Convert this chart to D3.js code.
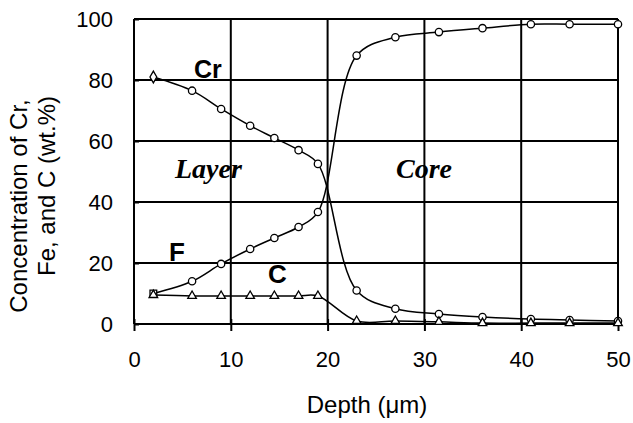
<!DOCTYPE html>
<html>
<head>
<meta charset="utf-8">
<script src="https://cdn.jsdelivr.net/npm/d3@7"></script>
<style>
  body { margin: 0; background: #fff; }
  text { font-family: Arial, "Liberation Sans", sans-serif; fill: #000; }
</style>
</head>
<body>
<div id="chart"></div>
<script>
// depth profile values
var depth = [2, 6, 9, 12, 14.5, 17, 19, 23, 27, 31.5, 36, 41, 45, 50];
var crVals = [81, 76.5, 70.5, 65, 61, 57, 52.5, 11, 5, 3.3, 2.3, 1.6, 1.3, 1];
var feVals = [10, 14, 19.7, 24.6, 28.2, 31.8, 36.7, 88, 94, 95.7, 97, 98.3, 98.3, 98.3];
var cVals = [9.5, 9.2, 9.2, 9.2, 9.2, 9.2, 9.2, 1, 1, 0.7, 0.3, 0.3, 0.3, 0.3];
var xTicks = [0, 10, 20, 30, 40, 50];
var yTicks = [0, 20, 40, 60, 80, 100];

var margin = { top: 19, right: 15, bottom: 99, left: 134 },
    width = 633 - margin.left - margin.right,
    height = 423 - margin.top - margin.bottom;

var svg = d3.select("#chart")
  .append("svg")
  .attr("width", 633)
  .attr("height", 423)
  .append("g")
  .attr("transform", "translate(" + margin.left + "," + margin.top + ")");

var x = d3.scaleLinear().domain([0, 50]).range([0, width]);
var y = d3.scaleLinear().domain([0, 100]).range([height, 0]);

// grid
svg.selectAll(".vgrid")
  .data(xTicks.slice(1))
  .enter().append("line")
  .attr("x1", d => x(d)).attr("x2", d => x(d))
  .attr("y1", 0).attr("y2", height)
  .attr("stroke", "#000").attr("stroke-width", 2);
svg.selectAll(".hgrid")
  .data(yTicks.slice(1))
  .enter().append("line")
  .attr("x1", 0).attr("x2", width)
  .attr("y1", d => y(d)).attr("y2", d => y(d))
  .attr("stroke", "#000").attr("stroke-width", 2);

// axes
var xAxis = svg.append("g")
  .attr("transform", "translate(0," + height + ")")
  .call(d3.axisBottom(x).tickValues(xTicks).tickSize(7).tickPadding(20));
var yAxis = svg.append("g")
  .call(d3.axisLeft(y).tickValues(yTicks).tickSize(6).tickPadding(15));

xAxis.selectAll(".tick line").attr("y1", -5).attr("stroke-width", 2);
yAxis.selectAll(".tick line").attr("x2", 5).attr("stroke-width", 2);
[xAxis, yAxis].forEach(function(a) {
  a.select(".domain").attr("stroke-width", 2);
  a.selectAll("text").style("font-size", "22px").attr("font-family", "Arial, 'Liberation Sans', sans-serif");
});
yAxis.select(".domain").attr("d", "M0," + height + "V0");
xAxis.select(".domain").attr("d", "M0,0H" + width);

// curves
var line = d3.line()
  .x(d => x(d[0]))
  .y(d => y(d[1]))
  .curve(d3.curveCatmullRom.alpha(0.5));

var series = [
  { name: "Cr", vals: crVals },
  { name: "Fe", vals: feVals },
  { name: "C", vals: cVals }
];

series.forEach(function(s) {
  var pts = depth.map((d, i) => [d, s.vals[i]]);
  s.pts = pts;
  svg.append("path")
    .datum(pts)
    .attr("d", line)
    .attr("fill", "none")
    .attr("stroke", "#000")
    .attr("stroke-width", 1.5);
});

// markers
function marker(s, i) {
  if (s.name === "C") return d3.symbol().type(d3.symbolTriangle).size(32)();
  if (i === 0 && s.name === "Cr") return d3.symbol().type(d3.symbolDiamond).size(40)();
  if (i === 0 && s.name === "Fe") return d3.symbol().type(d3.symbolSquare).size(45)();
  return d3.symbol().type(d3.symbolCircle).size(42)();
}

series.forEach(function(s) {
  svg.selectAll(null)
    .data(s.pts)
    .enter().append("path")
    .attr("d", (d, i) => marker(s, i))
    .attr("transform", d => "translate(" + x(d[0]) + "," + y(d[1]) + ")")
    .attr("fill", "#fff")
    .attr("stroke", "#000")
    .attr("stroke-width", 1.3);
});

// series labels
svg.append("text").attr("x", 60).attr("y", 59).style("font-size", "25px").attr("font-weight", 700).text("Cr");
svg.append("text").attr("x", 35).attr("y", 242).style("font-size", "26px").attr("font-weight", 700).text("F");
svg.append("text").attr("x", 134).attr("y", 264).style("font-size", "26px").attr("font-weight", 700).text("C");

// region labels
svg.append("text").attr("x", 41).attr("y", 159)
  .style("font-family", "'Liberation Serif', 'Times New Roman', serif")
  .style("font-size", "28px").attr("font-weight", 700).attr("font-style", "italic").text("Layer");
svg.append("text").attr("x", 262).attr("y", 159)
  .style("font-family", "'Liberation Serif', 'Times New Roman', serif")
  .style("font-size", "28px").attr("font-weight", 700).attr("font-style", "italic").text("Core");

// axis titles
svg.append("text")
  .attr("x", x(25) - 9)
  .attr("y", height + 89)
  .attr("text-anchor", "middle")
  .style("font-size", "24px")
  .text("Depth (\u03bcm)");
svg.append("text")
  .attr("transform", "rotate(-90)")
  .attr("x", -(206 - margin.top))
  .attr("y", -margin.left + 27)
  .attr("text-anchor", "middle")
  .style("font-size", "24px")
  .text("Concentration of Cr,");
svg.append("text")
  .attr("transform", "rotate(-90)")
  .attr("x", -(186 - margin.top))
  .attr("y", -margin.left + 55)
  .attr("text-anchor", "middle")
  .style("font-size", "24px")
  .text("Fe, and C (wt.%)");
</script>
</body>
</html>
